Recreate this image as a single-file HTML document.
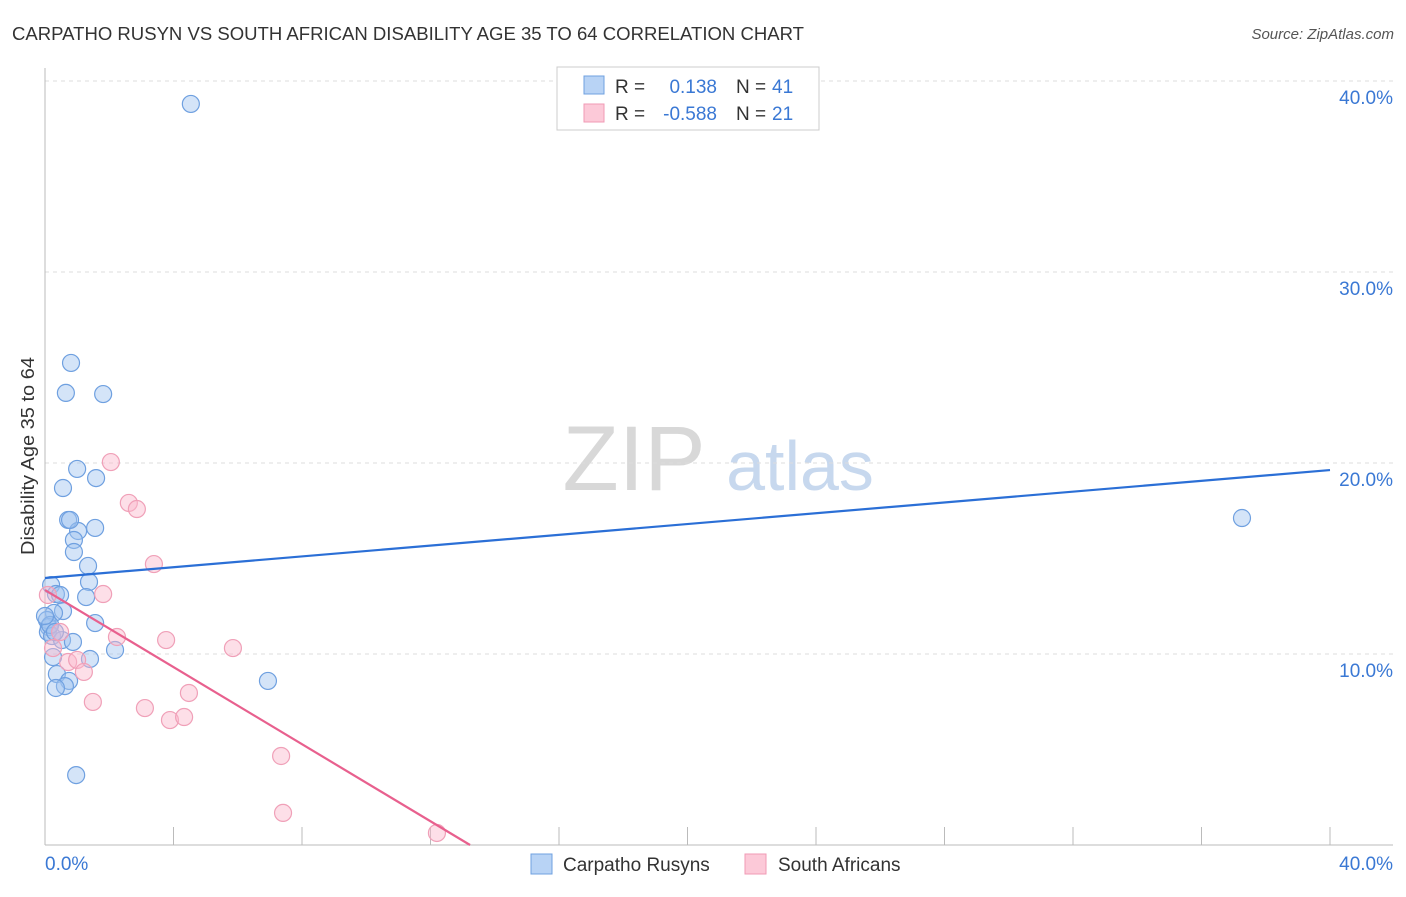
<!DOCTYPE html>
<html><head><meta charset="utf-8"><style>
body{margin:0;background:#fff;font-family:"Liberation Sans",sans-serif}
svg text{font-family:"Liberation Sans",sans-serif}
</style></head><body>
<svg id="chart" width="1406" height="892">
<text x="12" y="40" font-size="18" fill="#333" textLength="792" lengthAdjust="spacingAndGlyphs">CARPATHO RUSYN VS SOUTH AFRICAN DISABILITY AGE 35 TO 64 CORRELATION CHART</text>
<text x="1394" y="39" font-size="15" fill="#555" text-anchor="end" font-style="italic">Source: ZipAtlas.com</text>
<text x="634" y="490" font-size="92" fill="#d8d8d8" font-family="Liberation Serif" text-anchor="middle">ZIP</text>
<text x="800" y="490" font-size="70" fill="#c7d8ee" text-anchor="middle">atlas</text>
<text x="34" y="456" font-size="18" fill="#333" text-anchor="middle" textLength="198" lengthAdjust="spacingAndGlyphs" transform="rotate(-90 34 456)">Disability Age 35 to 64</text>
<g id="grid"></g><g id="marks"></g>
<g>
<rect x="557" y="67" width="262" height="63" fill="#fff" stroke="#ccc"/>
<rect x="584" y="76" width="20" height="18" fill="#b8d3f5" stroke="#6fa0e0"/>
<rect x="584" y="104" width="20" height="18" fill="#fcc9d8" stroke="#f09ab5"/>
<text x="615" y="93" font-size="19" fill="#333">R = </text><text x="717" y="93" font-size="19" fill="#3a78d4" text-anchor="end">0.138</text>
<text x="736" y="93" font-size="19" fill="#333">N = </text><text x="772" y="93" font-size="19" fill="#3a78d4">41</text>
<text x="615" y="120" font-size="19" fill="#333">R = </text><text x="717" y="120" font-size="19" fill="#3a78d4" text-anchor="end">-0.588</text>
<text x="736" y="120" font-size="19" fill="#333">N = </text><text x="772" y="120" font-size="19" fill="#3a78d4">21</text>
</g>
<g>
<rect x="531" y="854" width="21" height="20" fill="#b8d3f5" stroke="#6fa0e0"/>
<text x="563" y="871" font-size="19" fill="#333">Carpatho Rusyns</text>
<rect x="745" y="854" width="21" height="20" fill="#fcc9d8" stroke="#f09ab5"/>
<text x="778" y="871" font-size="19" fill="#333">South Africans</text>
</g>
</svg>
<script>
const blueX=[4.54,0.81,0.65,1.81,1.00,0.56,1.59,0.72,1.56,1.03,0.90,0.90,1.34,1.37,0.19,0.34,0.47,1.28,0.56,0.28,1.56,0.06,0.12,0.09,0.22,0.53,0.87,2.18,0.25,1.40,0.37,0.75,0.62,0.34,6.94,37.26,0.97,0.16,0.31,0.00,0.78];
const blueY=[38.80,25.24,23.67,23.61,19.69,18.69,19.21,17.02,16.60,16.44,15.97,15.34,14.61,13.77,13.61,13.14,13.09,12.98,12.25,12.15,11.62,11.78,11.41,11.15,10.94,10.73,10.63,10.21,9.84,9.74,8.95,8.59,8.32,8.22,8.59,17.12,3.66,11.52,11.15,11.99,17.02];
const pinkX=[2.05,2.61,2.86,3.39,1.81,0.09,2.24,3.77,5.85,0.47,0.25,0.72,1.00,1.21,1.49,3.11,3.89,4.33,4.48,7.35,7.41,12.20];
const pinkY=[20.05,17.91,17.59,14.71,13.14,13.09,10.89,10.73,10.31,11.15,10.31,9.58,9.69,9.06,7.49,7.17,6.54,6.70,7.96,4.66,1.68,0.63];
const blueTrend=[13.98,19.63];
const pinkTrend=[13.35,-1.009];
const yTicks=[10,20,30,40];
const yTickLabels=["10.0%","20.0%","30.0%","40.0%"];
const xTicks=[4,8,12,16,20,24,28,32,36,40];
const NS="http://www.w3.org/2000/svg";
const xs=v=>45+v*1285/40, ys=v=>845-v*19.1;
function mk(tag,attrs,parent){const e=document.createElementNS(NS,tag);for(const k in attrs)e.setAttribute(k,attrs[k]);parent.appendChild(e);return e;}
const grid=document.getElementById('grid'), marks=document.getElementById('marks');
yTicks.forEach((t,i)=>{
 const l=mk('line',{x1:45,x2:1393,y1:ys(t),y2:ys(t),stroke:'#ddd','stroke-dasharray':'4,4'},grid);
 
 
 const tx=mk('text',{x:1393,y:ys(t)+23,'font-size':19,fill:'#3a78d4','text-anchor':'end'},grid);tx.textContent=yTickLabels[i];
 
 
});
const ax=mk('line',{x1:45,x2:45,y1:68,y2:845,stroke:'#bbb'},grid);


const bx=mk('line',{x1:45,x2:1393,y1:845,y2:845,stroke:'#bbb'},grid);


xTicks.forEach(t=>{const l=mk('line',{x1:xs(t),x2:xs(t),y1:827,y2:845,stroke:'#bbb'},grid);
 
 });
const x0=mk('text',{x:45,y:870,'font-size':19,fill:'#3a78d4'},grid);x0.textContent='0.0%';


const x1=mk('text',{x:1393,y:870,'font-size':19,fill:'#3a78d4','text-anchor':'end'},grid);x1.textContent='40.0%';


blueX.forEach((v,i)=>{const c=mk('circle',{cx:xs(v),cy:ys(blueY[i]),r:8.5,fill:'rgba(160,196,240,0.45)',stroke:'#6fa0e0','stroke-width':1.2},marks);
 
 });
pinkX.forEach((v,i)=>{const c=mk('circle',{cx:xs(v),cy:ys(pinkY[i]),r:8.5,fill:'rgba(250,185,205,0.45)',stroke:'#f0a0b8','stroke-width':1.2},marks);
 
 });
const bl=mk('line',{x1:xs(0),y1:ys(blueTrend[0]),x2:xs(40),y2:ys(blueTrend[1]),stroke:'#2b6fd6','stroke-width':2.2},marks);


const xEnd=-pinkTrend[0]/pinkTrend[1];
const pl=mk('line',{x1:xs(0),y1:ys(pinkTrend[0]),x2:xs(xEnd),y2:ys(0),stroke:'#e8608e','stroke-width':2.2},marks);


</script>
</body></html>
